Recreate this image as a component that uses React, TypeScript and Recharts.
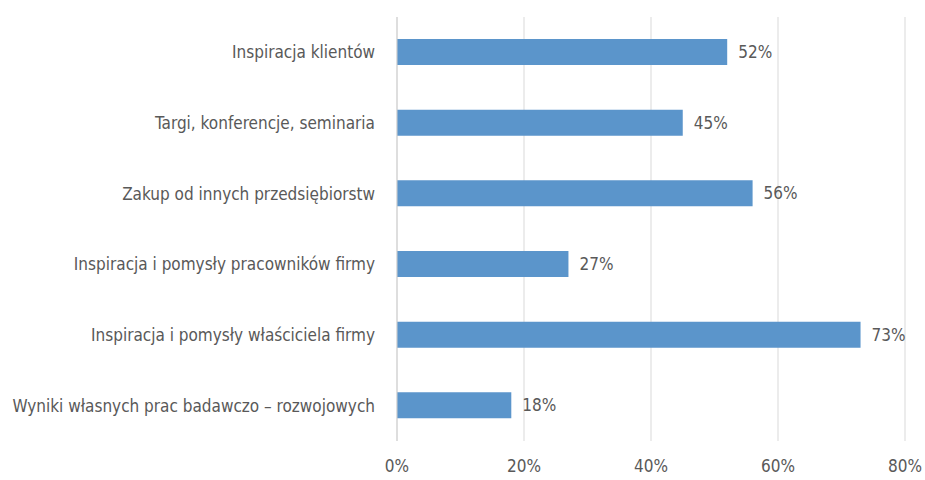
import { BarChart, Bar, XAxis, YAxis, CartesianGrid, LabelList } from "recharts";

const categories = [
  "Inspiracja klientów",
  "Targi, konferencje, seminaria",
  "Zakup od innych przedsiębiorstw",
  "Inspiracja i pomysły pracowników firmy",
  "Inspiracja i pomysły właściciela firmy",
  "Wyniki własnych prac badawczo – rozwojowych",
];
const values = [52, 45, 56, 27, 73, 18];
const xTicks = [0, 20, 40, 60, 80];

const data = categories.map((name, i) => ({ name, value: values[i] }));

const FONT = "'Liberation Sans Narrow', 'DejaVu Sans Condensed', sans-serif";
const TEXT = "#595959";

const App = () => {
  return (
    <div style={{ position: "absolute", left: 0, top: 0, background: "#fff" }}>
      <BarChart
        width={925}
        height={480}
        data={data}
        layout="vertical"
        margin={{ top: 17, right: 20, bottom: 9, left: 0 }}
        style={{ fontFamily: FONT }}
      >
        <CartesianGrid horizontal={false} stroke="#d9d9d9" />
        <XAxis
          type="number"
          domain={[0, 80]}
          ticks={xTicks}
          tickFormatter={(v) => `${v}%`}
          axisLine={false}
          tickLine={false}
          tickMargin={13}
          height={30}
          tick={{ fill: TEXT, fontSize: 17 }}
        />
        <YAxis
          type="category"
          dataKey="name"
          width={397}
          axisLine={{ stroke: "#d0d0d0" }}
          tickLine={false}
          tickMargin={16}
          tick={{ fill: TEXT, fontSize: 17 }}
        />
        <Bar dataKey="value" fill="#5b95cb" barSize={26} isAnimationActive={false}>
          <LabelList
            dataKey="value"
            position="right"
            offset={11}
            formatter={(v: number) => `${v}%`}
            style={{ fill: TEXT, fontSize: 17 }}
          />
        </Bar>
      </BarChart>
    </div>
  );
};

export default App;
